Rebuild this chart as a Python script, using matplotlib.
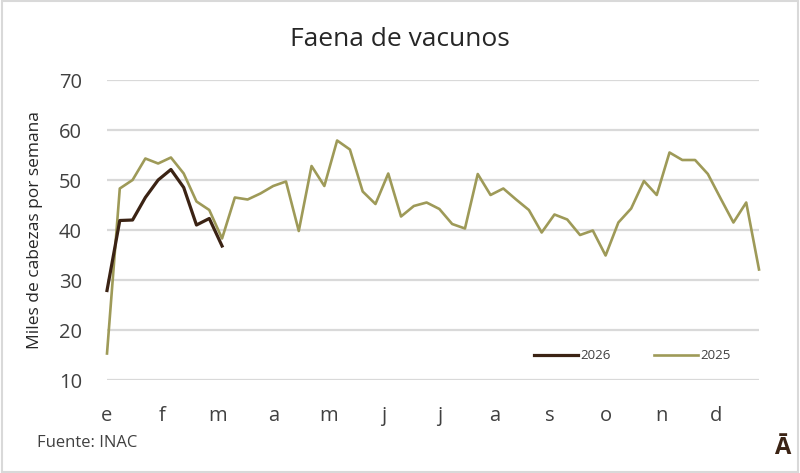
import matplotlib.pyplot as plt
from matplotlib.patches import Rectangle

# Faena semanal de vacunos (miles de cabezas)
faena_2025 = [
    15.3, 48.3, 50.0, 54.3, 53.3, 54.5, 51.3, 45.7, 44.0, 38.3,
    46.5, 46.1, 47.3, 48.8, 49.7, 39.8, 52.8, 48.8, 57.9, 56.1,
    47.7, 45.2, 51.3, 42.7, 44.8, 45.5, 44.2, 41.2, 40.3, 51.2,
    47.0, 48.3, 46.1, 44.0, 39.5, 43.1, 42.1, 39.0, 39.9, 34.9,
    41.5, 44.3, 49.8, 47.0, 55.5, 54.0, 54.0, 51.2, 46.3, 41.5,
    45.5, 32.1,
]
faena_2026 = [27.9, 41.9, 42.0, 46.5, 50.0, 52.1, 48.5, 41.0, 42.3, 36.8]

meses = ["e", "f", "m", "a", "m", "j", "j", "a", "s", "o", "n", "d"]
y_ticks = [10, 20, 30, 40, 50, 60, 70]

color_2025 = "#9E9A58"
color_2026 = "#3B2314"
color_texto = "#404040"
color_grid = "#D9D9D9"

plt.rcParams["font.family"] = ["Open Sans", "DejaVu Sans"]

fig = plt.figure(figsize=(8, 4.73), dpi=100)
ax = fig.add_axes([107 / 800, 1 - 380 / 473, (759 - 107) / 800, 300 / 473])

semanas_2025 = list(range(len(faena_2025)))
semanas_2026 = list(range(len(faena_2026)))

ax.plot(semanas_2025, faena_2025, color=color_2025, lw=1.9, label="2025",
        clip_on=False, zorder=3)
ax.plot(semanas_2026, faena_2026, color=color_2026, lw=2.3, label="2026",
        clip_on=False, zorder=4)

ax.set_xlim(0, len(faena_2025) - 1)
ax.set_ylim(10, 70)
ax.set_yticks(y_ticks)
ax.set_xticks([i * 52 / 12 for i in range(12)])
ax.set_xticklabels(meses)
ax.tick_params(axis="both", length=0, labelsize=14.5, colors=color_texto)
ax.tick_params(axis="x", pad=19)
ax.tick_params(axis="y", pad=18)
ax.grid(axis="y", color=color_grid, lw=1.6)
ax.set_axisbelow(True)
for spine in ax.spines.values():
    spine.set_visible(False)

ax.set_ylabel("Miles de cabezas por semana", fontsize=12.5, color="#262626")
ax.yaxis.set_label_coords(-0.098, 0.5)

handles, labels = ax.get_legend_handles_labels()
ax.legend(handles[::-1], labels[::-1], loc="lower right",
          bbox_to_anchor=(0.975, 0.02), ncol=2, frameon=False, fontsize=9.5,
          labelcolor=color_texto, handlelength=3.3, handletextpad=0.2,
          columnspacing=3.3)

fig.text(0.5, 1 - 40 / 473, "Faena de vacunos", ha="center", va="center",
         fontsize=19, color="#262626")
fig.text(37 / 800, 1 - 443 / 473, "Fuente: INAC", ha="left", va="center",
         fontsize=12, color=color_texto)
fig.text(782 / 800, 1 - 448 / 473, "Ā", ha="center", va="center",
         fontsize=17, fontweight="bold", color=color_2026)

fig.patches.append(Rectangle((0.002, 0.003), 0.996, 0.994,
                             transform=fig.transFigure, fill=False,
                             edgecolor=color_grid, lw=1.5))

fig.savefig("out.png", dpi=100)
